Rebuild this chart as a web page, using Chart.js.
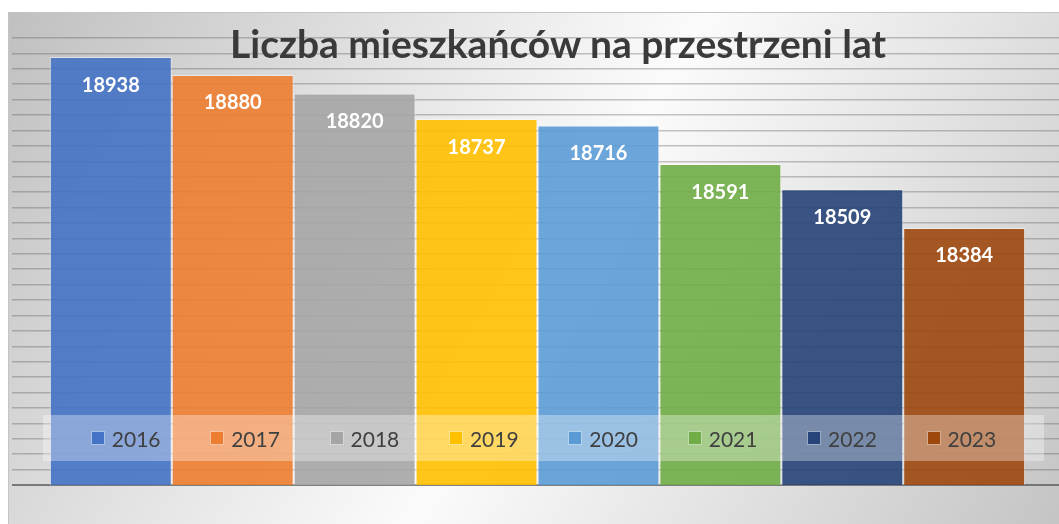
<!DOCTYPE html>
<html>
<head>
<meta charset="utf-8">
<script src="https://cdn.jsdelivr.net/npm/chart.js@4.4.1/dist/chart.umd.min.js"></script>
<style>
    body { margin: 0; width: 1059px; height: 524px; overflow: hidden; background: #fff; position: relative; }
    #frame {
        position: absolute; left: 8px; top: 12px; width: 1100px; height: 512px;
        border-top: 1px solid #c4c4c4; border-left: 1px solid #c4c4c4; box-sizing: border-box;
        background: linear-gradient(120deg, #c0c0c0 0%, #e4e4e4 30%, #fbfbfb 50%, #e4e4e4 70%, #c0c0c0 100%);
    }
    #chartTitle {
        position: absolute; left: 8px; top: 20px; width: 1100px; text-align: center;
        font: bold 39px Lato, sans-serif; color: #3a3a3a; pointer-events: none;
    }
    #legend {
        position: absolute; left: 43px; top: 415px; width: 1001px; height: 46px;
        background: rgba(255, 255, 255, 0.33);
        display: flex; justify-content: center; align-items: center;
        font: 21px Lato, sans-serif; color: #404040;
    }
    .legend-item { width: 119.4px; display: flex; justify-content: center; align-items: center; }
    .legend-box { width: 12px; height: 12px; margin-right: 7px; border: 1.5px solid rgba(255,255,255,0.55); }
</style>
</head>
<body>
<div id="frame"><canvas id="populationChart"></canvas></div>
<div id="chartTitle">Liczba mieszkańców na przestrzeni lat</div>
<div id="legend"></div>
<script>
// dane z wykresu
var years = ['2016', '2017', '2018', '2019', '2020', '2021', '2022', '2023'];
var population = [18938, 18880, 18820, 18737, 18716, 18591, 18509, 18384];
var yMin = 17550;
var yMax = 19000;
var yStep = 50;

var barColors = ['#4472C4', '#ED7D31', '#A5A5A5', '#FFC000', '#5B9BD5', '#70AD47', '#264478', '#9E480E'];

function withAlpha(hex, a) {
    var n = parseInt(hex.slice(1), 16);
    return 'rgba(' + (n >> 16) + ',' + ((n >> 8) & 255) + ',' + (n & 255) + ',' + a + ')';
}

// one dataset per year so every bar gets its own legend entry
var datasets = years.map(function (year, i) {
    return {
        label: year,
        data: [population[i]],
        backgroundColor: withAlpha(barColors[i], 0.9),
        borderColor: 'rgba(255,255,255,0.45)',
        borderWidth: 1
    };
});

// white value labels inside the top of each bar
var valueLabels = {
    id: 'valueLabels',
    afterDatasetsDraw: function (chart) {
        var ctx = chart.ctx;
        ctx.save();
        ctx.font = 'bold 20px Lato, sans-serif';
        ctx.fillStyle = '#ffffff';
        ctx.textAlign = 'center';
        ctx.textBaseline = 'middle';
        chart.data.datasets.forEach(function (ds, i) {
            var bar = chart.getDatasetMeta(i).data[0];
            ctx.fillText(ds.data[0], bar.x, bar.y + 28);
        });
        ctx.restore();
    }
};

var populationChart = new Chart(document.getElementById('populationChart'), {
    type: 'bar',
    data: { labels: [''], datasets: datasets },
    options: {
        responsive: true,
        maintainAspectRatio: false,
        animation: false,
        layout: { padding: { left: 3, right: 45, top: 25, bottom: 39 } },
        datasets: { bar: { categoryPercentage: 0.928, barPercentage: 1 } },
        plugins: {
            legend: { display: false },
            title: { display: false },
            tooltip: { enabled: false }
        },
        scales: {
            x: { display: false },
            y: {
                min: yMin,
                max: yMax,
                ticks: { display: false, stepSize: yStep },
                border: { display: false },
                grid: {
                    drawTicks: false,
                    lineWidth: function (c) { return c.tick && c.tick.value === yMin ? 2 : 1.5; },
                    color: function (c) { return c.tick && c.tick.value === yMin ? 'rgba(80,80,80,0.7)' : 'rgba(90,90,90,0.35)'; }
                }
            }
        }
    },
    plugins: [valueLabels]
});

// legend drawn in HTML on top of the plot, like the original
var legendEl = document.getElementById('legend');
Chart.defaults.plugins.legend.labels.generateLabels(populationChart).forEach(function (item) {
    var el = document.createElement('div');
    el.className = 'legend-item';
    var box = document.createElement('span');
    box.className = 'legend-box';
    box.style.background = barColors[item.datasetIndex];
    el.appendChild(box);
    el.appendChild(document.createTextNode(item.text));
    legendEl.appendChild(el);
});
</script>
</body>
</html>
